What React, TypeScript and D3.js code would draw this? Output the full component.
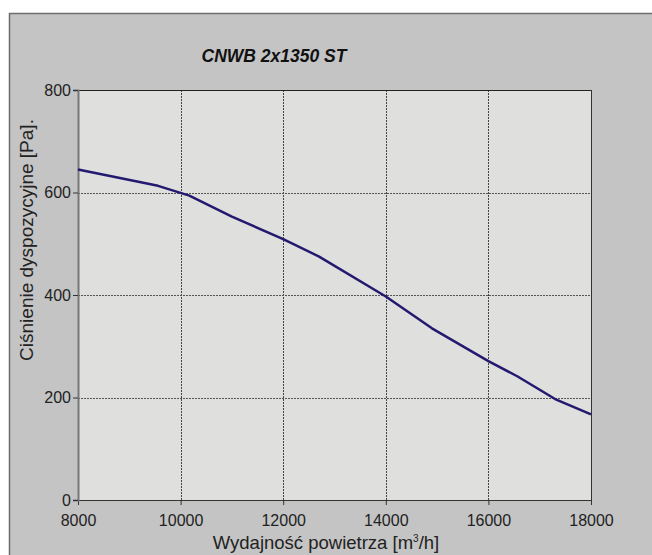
import { useEffect, useRef } from "react";
import * as d3 from "d3";

// airflow [m3/h] and available pressure [Pa]
const flow = [8000, 9560, 10170, 11000, 12000, 12700, 14000, 14900, 16000, 16570, 17300, 18000];
const pressure = [645, 613, 594, 553, 509, 475, 397, 335, 271, 241, 197, 167];

const xTicks = [8000, 10000, 12000, 14000, 16000, 18000];
const yTicks = [0, 200, 400, 600, 800];

const App = () => {
  const ref = useRef<SVGSVGElement | null>(null);

  useEffect(() => {
    const width = 652;
    const height = 555;
    const margin = { top: 90, right: 61, bottom: 55, left: 78 };
    const w = width - margin.left - margin.right;
    const h = height - margin.top - margin.bottom;
    const font = "'Liberation Sans', Arial, sans-serif";

    const svg = d3.select(ref.current);
    svg.selectAll("*").remove();

    // outer frame
    svg
      .append("rect")
      .attr("x", 9.5)
      .attr("y", 13.5)
      .attr("width", 700)
      .attr("height", 600)
      .attr("fill", "#c4c4c4")
      .attr("stroke", "#6e6e6e")
      .attr("stroke-width", 1.5);

    const g = svg.append("g").attr("transform", `translate(${margin.left},${margin.top})`);

    const x = d3.scaleLinear().domain([8000, 18000]).range([0, w]);
    const y = d3.scaleLinear().domain([0, 800]).range([h, 0]);

    g.append("rect").attr("width", w).attr("height", h).attr("fill", "#dfdfde");

    // grid
    g.selectAll(".gx")
      .data(xTicks.slice(1, -1))
      .enter()
      .append("line")
      .attr("x1", (d) => Math.round(x(d)) + 0.5)
      .attr("x2", (d) => Math.round(x(d)) + 0.5)
      .attr("y1", 0)
      .attr("y2", h)
      .attr("stroke", "#444")
      .attr("stroke-dasharray", "2,1");

    g.selectAll(".gy")
      .data(yTicks.slice(1, -1))
      .enter()
      .append("line")
      .attr("x1", 0)
      .attr("x2", w)
      .attr("y1", (d) => Math.round(y(d)) + 0.5)
      .attr("y2", (d) => Math.round(y(d)) + 0.5)
      .attr("stroke", "#555")
      .attr("stroke-dasharray", "2,1");

    // plot frame: top and right
    g.append("line").attr("x1", 0).attr("x2", w).attr("y1", 0.5).attr("y2", 0.5).attr("stroke", "#222");
    g.append("line").attr("x1", w + 0.5).attr("x2", w + 0.5).attr("y1", 0).attr("y2", h).attr("stroke", "#333");

    // axes
    const xAxis = g
      .append("g")
      .attr("transform", `translate(0,${h})`)
      .call(d3.axisBottom(x).tickValues(xTicks).tickSize(5).tickPadding(10).tickFormat(d3.format("d")));
    xAxis.select(".domain").attr("stroke", "#333");
    xAxis.selectAll("line").attr("stroke", "#333");
    xAxis.selectAll("text").attr("fill", "#222").style("font-family", font).style("font-size", "16px");

    const yAxis = g.append("g").call(d3.axisLeft(y).tickValues(yTicks).tickSize(5).tickPadding(2));
    yAxis.select(".domain").attr("stroke", "#777").attr("stroke-width", 2);
    yAxis.selectAll("line").attr("stroke", "#333");
    yAxis.selectAll("text").attr("fill", "#222").style("font-family", font).style("font-size", "16px");

    // curve
    const line = d3
      .line<number>()
      .x((d, i) => x(flow[i]))
      .y((d) => y(d));
    g.append("path")
      .datum(pressure)
      .attr("d", line)
      .attr("fill", "none")
      .attr("stroke", "#231a70")
      .attr("stroke-width", 2.5)
      .attr("stroke-linejoin", "round");

    // title
    svg
      .append("text")
      .attr("x", 274)
      .attr("y", 62)
      .attr("text-anchor", "middle")
      .style("font-family", font)
      .style("font-size", "17.5px")
      .style("font-weight", "bold")
      .style("font-style", "italic")
      .attr("fill", "#111")
      .text("CNWB 2x1350 ST");

    // x label
    const xl = svg
      .append("text")
      .attr("x", 326)
      .attr("y", 549)
      .attr("text-anchor", "middle")
      .style("font-family", font)
      .style("font-size", "18.5px")
      .attr("fill", "#222");
    xl.append("tspan").text("Wydajność powietrza [m");
    xl.append("tspan").attr("dy", -7).style("font-size", "10px").text("3");
    xl.append("tspan").attr("dy", 7).text("/h]");

    // y label
    svg
      .append("text")
      .attr("transform", "translate(33,240) rotate(-90)")
      .attr("text-anchor", "middle")
      .style("font-family", font)
      .style("font-size", "19px")
      .attr("fill", "#222")
      .text("Ciśnienie dyspozycyjne [Pa].");
  }, []);

  return <svg ref={ref} width={652} height={555} style={{ display: "block", position: "absolute", left: 0, top: 0 }} />;
};

export default App;
